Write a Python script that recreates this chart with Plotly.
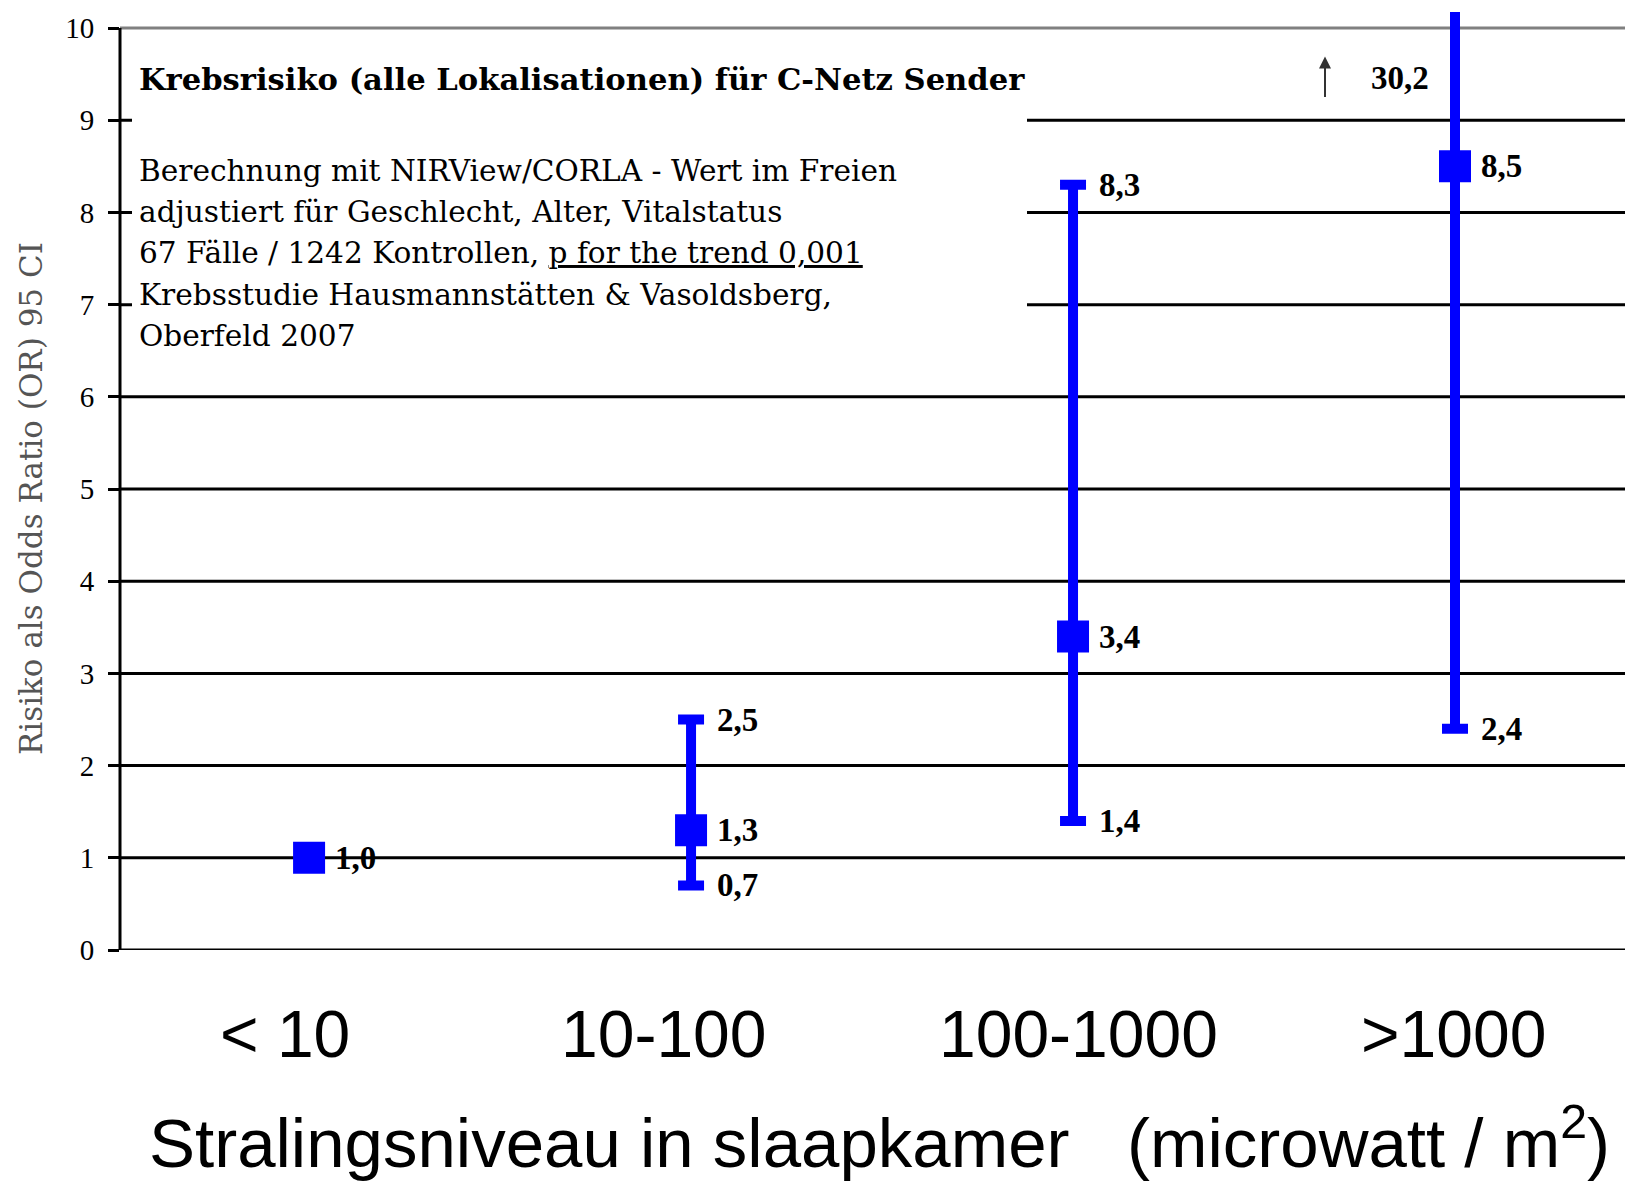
import plotly.graph_objects as go

# ---------------- data ----------------
categories = ["< 10", "10-100", "100-1000", ">1000"]
odds_ratio = [1.0, 1.3, 3.4, 8.5]
ci_lower = [None, 0.7, 1.4, 2.4]
ci_upper = [None, 2.5, 8.3, 30.2]
y_tick_values = [0, 1, 2, 3, 4, 5, 6, 7, 8, 9, 10]

title_text = "Krebsrisiko (alle Lokalisationen) für C-Netz Sender"
info_lines = [
    "Berechnung mit NIRView/CORLA - Wert im Freien",
    "adjustiert für Geschlecht, Alter, Vitalstatus",
    "67 Fälle / 1242 Kontrollen, <u>p for the trend 0,001</u>",
    "Krebsstudie Hausmannstätten &amp; Vasoldsberg,",
    "Oberfeld 2007",
]
y_title = "Risiko als Odds Ratio (OR) 95 CI"
x_title = "Stralingsniveau in slaapkamer   (microwatt / m<sup>2</sup>)"

# ---------------- layout / style constants ----------------
BODY = 8  # default page margin of the html body
W, H = 1633, 1184 - BODY
ML, MT = 120 - BODY, 12 - BODY
PLOT_W, PLOT_H = 1513, 938
MR = W - ML - PLOT_W
MB = H - MT - PLOT_H
Y_MAX_SHOWN = 10.0
Y_RANGE = [0, 10.174]
X_RANGE = [-0.495, 3.466]
CAT_LABEL_SHIFT = [-24, -27, 5, -2]  # pixel nudges of the category labels
BLUE = "#0000FF"
SERIF = "Liberation Serif, Times New Roman, serif"
WIDE_SERIF = "DejaVu Serif, serif"
SANS = "Liberation Sans, Arial, sans-serif"
INFO_TOP_PX, INFO_STEP_PX = 171, 41.2


def fmt(v):
    return f"{v:.1f}".replace(".", ",")


def px_to_paper_y(py):
    return (950 - py) / PLOT_H


def px_to_paper_x(px):
    return (px - 120) / PLOT_W


x_pos = list(range(len(categories)))
err_plus = [(u - v) if u is not None else 0 for u, v in zip(ci_upper, odds_ratio)]
err_minus = [(v - l) if l is not None else 0 for l, v in zip(ci_lower, odds_ratio)]

fig = go.Figure()
fig.add_trace(
    go.Scatter(
        x=x_pos,
        y=odds_ratio,
        mode="markers",
        marker=dict(symbol="square", size=32, color=BLUE),
        error_y=dict(
            type="data",
            symmetric=False,
            array=err_plus,
            arrayminus=err_minus,
            color=BLUE,
            thickness=10,
            width=13,
        ),
        showlegend=False,
        cliponaxis=True,
    )
)

annotations = []
label_font = dict(family=SERIF, size=33, color="black")
LABEL_DX = 24
for i, (v, lo, hi) in enumerate(zip(odds_ratio, ci_lower, ci_upper)):
    annotations.append(dict(x=i, y=v, text=f"<b>{fmt(v)}</b>", showarrow=False,
                            xanchor="left", yanchor="middle", xshift=LABEL_DX, font=label_font))
    if lo is not None:
        annotations.append(dict(x=i, y=lo, text=f"<b>{fmt(lo)}</b>", showarrow=False,
                                xanchor="left", yanchor="middle", xshift=LABEL_DX, font=label_font))
    if hi is not None:
        if hi <= Y_MAX_SHOWN:
            annotations.append(dict(x=i, y=hi, text=f"<b>{fmt(hi)}</b>", showarrow=False,
                                    xanchor="left", yanchor="middle", xshift=LABEL_DX,
                                    font=label_font))
        else:
            # value beyond the visible range: label with an upward arrow
            annotations.append(dict(x=i, y=9.46, text=f"<b>{fmt(hi)}</b>", showarrow=False,
                                    xanchor="right", yanchor="middle", xshift=-24, font=label_font))
            annotations.append(dict(x=i, y=9.69, xshift=-130, text="", showarrow=True,
                                    arrowhead=2, arrowsize=1.2, arrowwidth=2,
                                    arrowcolor="#333333", ax=0, ay=42))

# category labels
for i, (cat, dx) in enumerate(zip(categories, CAT_LABEL_SHIFT)):
    annotations.append(dict(x=i, xref="x", yref="paper", y=px_to_paper_y(1034), text=cat,
                            showarrow=False, xanchor="center", yanchor="middle", xshift=dx,
                            font=dict(family=SANS, size=66, color="black")))
# x axis title
annotations.append(dict(xref="paper", yref="paper", x=px_to_paper_x(879), y=px_to_paper_y(1138),
                        text=x_title, showarrow=False, xanchor="center", yanchor="middle",
                        font=dict(family=SANS, size=69, color="black")))

# text block
annotations.append(dict(xref="paper", yref="paper", x=px_to_paper_x(137), y=px_to_paper_y(79),
                        text=f"<b>{title_text}</b>", showarrow=False,
                        xanchor="left", yanchor="middle",
                        font=dict(family=WIDE_SERIF, size=30.6, color="black")))
for k, line in enumerate(info_lines):
    annotations.append(dict(xref="paper", yref="paper", x=px_to_paper_x(137),
                            y=px_to_paper_y(INFO_TOP_PX + k * INFO_STEP_PX),
                            text=line, showarrow=False, align="left",
                            xanchor="left", yanchor="middle",
                            font=dict(family=WIDE_SERIF, size=29.6, color="black")))
# y axis title
annotations.append(dict(xref="paper", yref="paper", x=px_to_paper_x(31), y=px_to_paper_y(499),
                        text=y_title, showarrow=False, textangle=-90,
                        xanchor="center", yanchor="middle",
                        font=dict(family=WIDE_SERIF, size=31, color="#555555")))

# horizontal grid lines at every tick (grey at the top), then the white text panel
shapes = []
for v in y_tick_values:
    shapes.append(dict(type="line", xref="paper", yref="y", x0=0, x1=1, y0=v, y1=v,
                       line=dict(color="#808080" if v == Y_MAX_SHOWN else "black", width=3),
                       layer="below"))
shapes.append(dict(type="rect", xref="paper", yref="y", x0=px_to_paper_x(132),
                   x1=px_to_paper_x(1027), y0=6.5, y1=9.92,
                   fillcolor="white", line=dict(width=0), layer="below"))
shapes.append(dict(type="line", xref="paper", yref="y", x0=0, x1=0, y0=0, y1=Y_MAX_SHOWN,
                   line=dict(color="black", width=3), layer="below"))

fig.update_layout(
    width=W,
    height=H,
    margin=dict(l=ML, r=MR, t=MT, b=MB, pad=0),
    paper_bgcolor="white",
    plot_bgcolor="white",
    annotations=annotations,
    shapes=shapes,
    xaxis=dict(
        range=X_RANGE,
        tickvals=x_pos,
        showticklabels=False,
        showgrid=False,
        zeroline=False,
        showline=False,
        ticks="",
    ),
    yaxis=dict(
        range=Y_RANGE,
        tickvals=y_tick_values,
        ticktext=[str(v) for v in y_tick_values],
        showgrid=False,
        zeroline=False,
        showline=False,
        ticks="outside",
        ticklen=11,
        tickwidth=3,
        tickcolor="black",
        tickfont=dict(family=SERIF, size=29, color="black"),
        ticklabelstandoff=8,
    ),
)

fig.write_html("out.html")
